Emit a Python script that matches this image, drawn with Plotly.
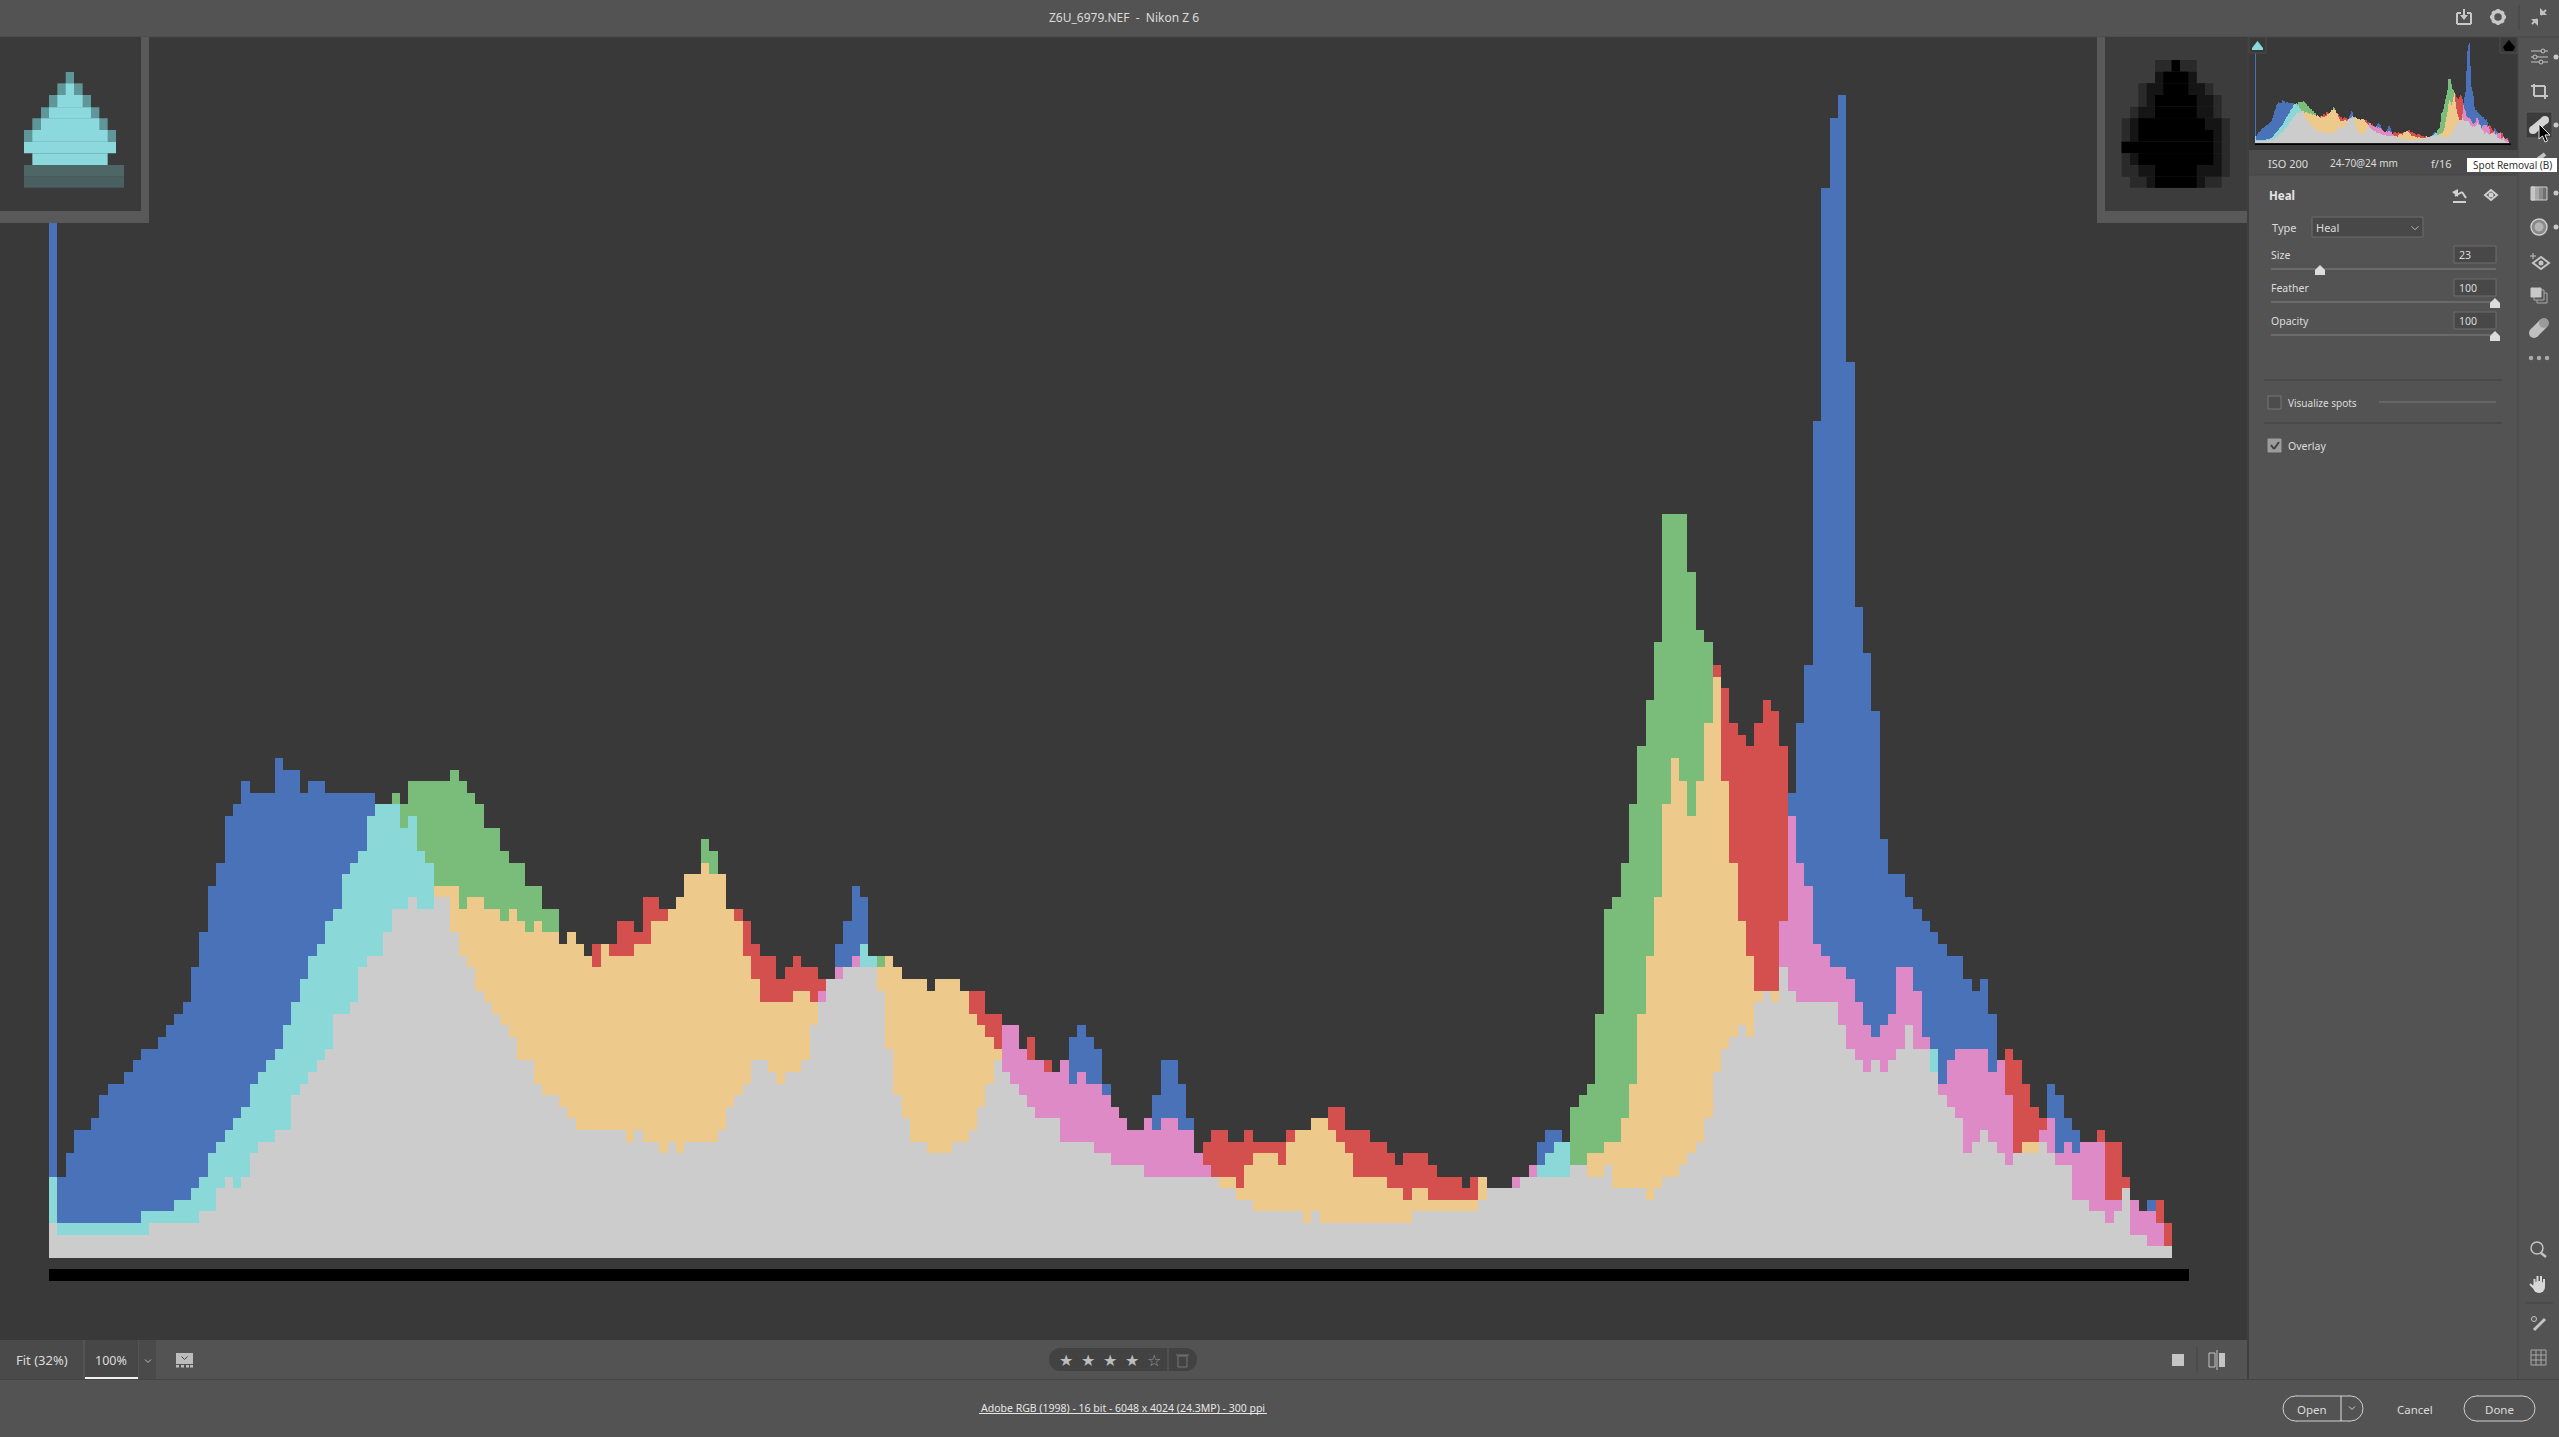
# Camera Raw window with its RGB histogram, big and small
import numpy as np
import plotly.graph_objects as go

W = 2559
H = 1437

# =========================================================
# HISTOGRAM DATA (one value per level column)
# =========================================================
red = [
    3, 2, 2, 2, 2, 2, 2, 2, 2, 2,
    2, 2, 3, 3, 3, 3, 3, 3, 4, 4,
    6, 7, 6, 7, 9, 10, 10, 11, 11, 14,
    15, 16, 17, 18, 21, 21, 22, 25, 26, 26,
    28, 30, 30, 31, 30, 30, 32, 32, 32, 30,
    31, 31, 30, 30, 29, 30, 29, 28, 29, 28,
    28, 27, 28, 27, 26, 27, 27, 27, 29, 29,
    28, 31, 31, 30, 30, 31, 33, 33, 34, 33,
    33, 30, 30, 29, 27, 26, 26, 24, 25, 26,
    25, 25, 24, 24, 25, 25, 26, 25, 25, 25,
    26, 25, 24, 24, 24, 23, 24, 24, 24, 23,
    23, 23, 21, 21, 20, 20, 18, 19, 17, 17,
    16, 17, 15, 16, 15, 15, 14, 13, 12, 11,
    11, 12, 11, 12, 12, 11, 11, 9, 10, 11,
    11, 10, 10, 11, 10, 10, 10, 10, 11, 11,
    11, 12, 12, 13, 13, 11, 11, 11, 10, 10,
    9, 8, 9, 9, 9, 8, 7, 7, 7, 6,
    7, 7, 6, 6, 6, 7, 7, 8, 7, 7,
    7, 7, 8, 8, 9, 9, 10, 10, 12, 15,
    21, 26, 31, 39, 43, 41, 38, 41, 46, 51,
    49, 46, 45, 44, 46, 48, 47, 44, 38, 34,
    32, 27, 26, 25, 25, 24, 22, 20, 19, 20,
    21, 25, 25, 23, 19, 16, 15, 17, 18, 18,
    18, 18, 16, 17, 18, 17, 15, 13, 12, 12,
    9, 10, 9, 10, 10, 11, 10, 10, 7, 5,
    4, 4, 5, 3, 0, 0,
]
green = [
    7, 3, 3, 3, 3, 3, 3, 3, 3, 3,
    3, 4, 4, 4, 4, 5, 5, 6, 7, 9,
    10, 11, 12, 13, 15, 16, 17, 18, 20, 22,
    24, 26, 27, 29, 30, 33, 34, 35, 38, 39,
    39, 40, 39, 41, 41, 41, 41, 41, 42, 41,
    40, 39, 37, 37, 35, 34, 34, 32, 32, 30,
    30, 27, 28, 27, 26, 25, 27, 26, 26, 26,
    27, 27, 29, 29, 30, 31, 33, 33, 36, 35,
    33, 30, 29, 26, 24, 22, 22, 22, 22, 23,
    23, 22, 22, 24, 24, 25, 25, 27, 26, 26,
    26, 25, 24, 24, 24, 23, 24, 24, 24, 23,
    21, 20, 19, 18, 16, 15, 14, 13, 12, 12,
    12, 10, 10, 10, 10, 9, 9, 8, 8, 8,
    8, 7, 7, 7, 7, 7, 7, 7, 7, 7,
    7, 7, 6, 8, 9, 9, 9, 8, 10, 11,
    11, 12, 12, 11, 10, 9, 7, 7, 7, 7,
    6, 6, 5, 6, 6, 5, 5, 5, 5, 5,
    5, 7, 6, 6, 6, 6, 7, 7, 8, 9,
    10, 10, 13, 14, 15, 21, 30, 31, 34, 39,
    44, 48, 53, 64, 64, 64, 59, 54, 53, 50,
    41, 34, 29, 26, 23, 23, 23, 25, 23, 22,
    22, 22, 22, 22, 20, 18, 17, 16, 17, 16,
    17, 18, 20, 18, 18, 18, 14, 13, 12, 9,
    10, 11, 10, 9, 8, 9, 10, 10, 10, 9,
    8, 8, 5, 5, 4, 4, 3, 4, 6, 2,
    2, 1, 1, 1, 0, 0,
]
blue = [
    90, 7, 9, 11, 11, 12, 14, 15, 15, 16,
    17, 18, 18, 19, 20, 21, 22, 25, 28, 32,
    34, 38, 39, 41, 40, 40, 40, 43, 42, 42,
    40, 41, 41, 40, 40, 40, 40, 40, 40, 39,
    39, 39, 37, 38, 35, 34, 31, 31, 28, 26,
    25, 23, 22, 21, 20, 19, 17, 17, 15, 14,
    14, 13, 12, 11, 11, 11, 11, 11, 11, 10,
    11, 10, 10, 9, 10, 9, 10, 10, 10, 10,
    11, 13, 14, 15, 17, 17, 16, 15, 16, 16,
    17, 20, 23, 24, 27, 29, 32, 31, 26, 23,
    18, 14, 12, 10, 10, 9, 9, 9, 10, 10,
    11, 13, 15, 17, 20, 20, 18, 17, 17, 16,
    16, 17, 19, 20, 19, 18, 15, 13, 12, 11,
    11, 12, 14, 17, 17, 15, 12, 9, 8, 7,
    6, 6, 5, 5, 4, 4, 4, 4, 4, 4,
    3, 4, 3, 3, 3, 3, 3, 3, 3, 3,
    3, 3, 3, 4, 4, 4, 4, 4, 4, 4,
    4, 5, 6, 6, 6, 7, 7, 8, 10, 11,
    11, 10, 8, 8, 7, 7, 8, 6, 6, 6,
    6, 5, 6, 7, 7, 8, 9, 10, 12, 16,
    18, 19, 20, 19, 22, 23, 22, 29, 40, 46,
    51, 72, 92, 98, 100, 77, 56, 52, 47, 36,
    33, 33, 31, 30, 29, 28, 27, 26, 26, 24,
    23, 24, 21, 17, 14, 9, 9, 9, 11, 15,
    14, 12, 11, 10, 10, 10, 5, 5, 6, 5,
    4, 5, 3, 1, 0, 0,
]
levels = list(range(len(red)))

r = np.array(red)
g = np.array(green)
b = np.array(blue)

# where channels overlap the colour mixes, where all three overlap it is gray
layers = [
    (b, '#4a72b8'),
    (g, '#7abd7a'),
    (r, '#d4504e'),
    (np.minimum(g, b), '#8bd8d9'),
    (np.minimum(r, b), '#de8ac6'),
    (np.minimum(r, g), '#edc98b'),
    (np.minimum(np.minimum(r, g), b), '#cccccc'),
]

CHROME = '#535353'
CANVAS = '#393939'
TEXT = '#dcdcdc'
FONT = 'Noto Sans'

shapes = []
notes = []


# =========================================================
# DRAWING HELPERS (window pixels to paper coordinates)
# =========================================================
def px(x):
    return x / W


def py(y):
    return 1 - y / H


def rect(x0, y0, x1, y1, fill, line=None, layer='above'):
    shapes.append(dict(
        type='rect', xref='paper', yref='paper', layer=layer,
        x0=px(x0), x1=px(x1), y0=py(y0), y1=py(y1),
        fillcolor=fill, line=dict(width=1 if line else 0, color=line or fill)
    ))


def line(x0, y0, x1, y1, color, width=1):
    shapes.append(dict(
        type='line', xref='paper', yref='paper', layer='above',
        x0=px(x0), x1=px(x1), y0=py(y0), y1=py(y1),
        line=dict(color=color, width=width)
    ))


def circle(cx, cy, rad, fill, outline=None, width=1):
    shapes.append(dict(
        type='circle', xref='paper', yref='paper', layer='above',
        x0=px(cx - rad), x1=px(cx + rad), y0=py(cy - rad), y1=py(cy + rad),
        fillcolor=fill, line=dict(width=width if outline else 0, color=outline or fill)
    ))


def poly(points, fill, outline=None, width=1):
    path = 'M ' + ' L '.join(f'{px(x):.5f},{py(y):.5f}' for x, y in points) + ' Z'
    shapes.append(dict(
        type='path', xref='paper', yref='paper', layer='above', path=path,
        fillcolor=fill, line=dict(width=width if outline else 0, color=outline or fill)
    ))


def pill(x0, y0, x1, y1, fill, outline=None):
    rad = (y1 - y0) / 2
    circle(x0 + rad, y0 + rad, rad, fill, outline)
    circle(x1 - rad, y0 + rad, rad, fill, outline)
    rect(x0 + rad, y0, x1 - rad, y1, fill)
    if outline:
        line(x0 + rad, y0, x1 - rad, y0, outline)
        line(x0 + rad, y1, x1 - rad, y1, outline)


def text(x, y, s, size=11.5, color=TEXT, anchor='left', font=FONT):
    notes.append(dict(
        xref='paper', yref='paper', x=px(x), y=py(y), text=s, showarrow=False,
        xanchor=anchor, yanchor='middle', borderpad=0,
        font=dict(family=font, size=size, color=color)
    ))


def chevron(cx, cy, color, size=4):
    line(cx - size, cy - size / 2, cx, cy + size / 2, color)
    line(cx, cy + size / 2, cx + size, cy - size / 2, color)


# =========================================================
# WINDOW BACKGROUND
# =========================================================
rect(0, 37, 2247, 1340, CANVAS, layer='below')
rect(2249, 37, 2518, 150, CANVAS, layer='below')
rect(2249, 150, 2518, 175, '#4c4c4c', layer='below')

line(0, 37, 2559, 37, '#484848')
line(2248, 37, 2248, 1379, '#3f3f3f', 2)
line(2518, 37, 2518, 1379, '#484848')
line(0, 1379.5, 2559, 1379.5, '#454545')
line(2249, 175, 2518, 175, '#474747')
line(2519, 5, 2519, 30, '#454545')

# black strips under both histograms
rect(49, 1269, 2189, 1281, '#000000')
rect(2255, 143.5, 2511, 145, '#000000')

# =========================================================
# TITLE BAR
# =========================================================
text(1124, 17, 'Z6U_6979.NEF\u00a0\u00a0-\u00a0\u00a0Nikon Z 6', 12, anchor='center')

# save icon
line(2457, 13, 2457, 24, '#c8c8c8', 2)
line(2457, 24, 2471, 24, '#c8c8c8', 2)
line(2471, 13, 2471, 24, '#c8c8c8', 2)
line(2457, 13, 2461, 13, '#c8c8c8', 2)
line(2467, 13, 2471, 13, '#c8c8c8', 2)
line(2464, 9, 2464, 19, '#c8c8c8', 2)
poly([(2460, 15), (2468, 15), (2464, 20)], '#c8c8c8')
# gear
circle(2498, 17, 5.5, 'rgba(0,0,0,0)', '#c8c8c8', 3.5)
for dx, dy in [(0, -8), (0, 8), (-8, 0), (8, 0), (-5.5, -5.5), (5.5, 5.5), (-5.5, 5.5), (5.5, -5.5)]:
    line(2498 + dx * 0.7, 17 + dy * 0.7, 2498 + dx, 17 + dy, '#c8c8c8', 3)
# collapse arrows
line(2532, 24, 2537, 19, '#c0c0c0', 2)
line(2546, 10, 2541, 15, '#c0c0c0', 2)
poly([(2531, 19), (2538, 19), (2538, 26)], '#c0c0c0')
poly([(2540, 8), (2540, 15), (2547, 15)], '#c0c0c0')

# =========================================================
# CLIPPING BOXES OVER THE BIG HISTOGRAM
# =========================================================
rect(0, 37, 149, 223, '#595959')
rect(0, 37, 141, 211, '#3a3a3a')

# highlight warning triangle, rows of big pixels as in the reference
PALE = '#5f9699'
CORE = '#8bd8dd'
warn_rows = [
    (156, 190, 197, 222, PALE), (190, 225, 172, 248, PALE), (225, 262, 147, 273, PALE),
    (262, 295, 123, 298, PALE), (295, 330, 97, 323, PALE), (330, 365, 72, 348, PALE),
    (190, 225, 197, 222, CORE), (225, 262, 172, 248, CORE), (262, 295, 147, 273, CORE),
    (295, 330, 123, 298, CORE), (330, 365, 97, 323, CORE), (365, 400, 72, 348, CORE),
    (400, 435, 97, 323, CORE), (435, 470, 72, 372, '#4f6667'), (470, 503, 72, 372, '#4a5f60'),
]
for y0, y1, x0, x1, color in warn_rows:
    rect(x0 / 3, 20 + y0 / 3, x1 / 3, 20 + y1 / 3, color)

rect(2097, 37, 2247, 223, '#595959')
rect(2105, 37, 2247, 211, '#3c3c3c')

# shadow warning drop, soft black blob made of the same kind of rows
drop_rows = [
    (120, 155, 225, 350, 275, 300, 275, 300),
    (155, 190, 225, 350, 225, 350, 250, 325),
    (190, 225, 175, 400, 200, 375, 250, 325),
    (225, 260, 175, 425, 200, 400, 225, 350),
    (260, 295, 150, 425, 175, 400, 225, 350),
    (295, 330, 125, 450, 150, 425, 175, 375),
    (330, 365, 125, 450, 150, 425, 175, 400),
    (365, 400, 125, 450, 125, 425, 125, 400),
    (400, 435, 125, 450, 150, 425, 175, 400),
    (435, 470, 125, 450, 175, 425, 225, 350),
    (470, 503, 150, 425, 200, 375, 225, 350),
]
for y0, y1, s0, s1, m0, m1, c0, c1 in drop_rows:
    top = 20 + y0 / 3
    bot = 20 + y1 / 3
    rect(2080 + s0 / 3, top, 2080 + s1 / 3, bot, '#2a2a2a')
    rect(2080 + m0 / 3, top, 2080 + m1 / 3, bot, '#151515')
    rect(2080 + c0 / 3, top, 2080 + c1 / 3, bot, '#000000')

# =========================================================
# SMALL HISTOGRAM CORNERS AND INFO STRIP
# =========================================================
rect(2249, 37, 2266, 53, CANVAS, '#4d4d4d')
poly([(2257.5, 41), (2252, 48), (2263, 48)], '#8bd8dd')
rect(2252, 48, 2263, 50, '#8bd8dd')
rect(2500, 37, 2517, 53, CANVAS, '#4d4d4d')
poly([(2509, 40), (2503, 47), (2505, 51), (2513, 51), (2515, 47)], '#000000')

text(2267, 163, 'ISO 200', 11)
text(2329, 163, '24-70@24\u00a0mm', 10)
text(2430, 163, 'f/16', 11)

# =========================================================
# HEAL PANEL
# =========================================================
text(2268, 196, '<b>Heal</b>', 11.5, '#e6e6e6')

# reset and eye icons
line(2453, 202, 2466, 202, '#d0d0d0', 2)
line(2455, 196, 2462, 192, '#d0d0d0', 2)
line(2462, 192, 2466, 198, '#d0d0d0', 2)
poly([(2452, 192), (2458, 189), (2458, 197)], '#d0d0d0')
poly([(2485, 195), (2491, 190), (2497, 195), (2491, 200)], 'rgba(0,0,0,0)', '#d0d0d0', 2)
circle(2491, 195, 2.5, '#d0d0d0')

text(2271, 227, 'Type', 11)
rect(2312, 217, 2423, 237, '#484848', '#6c6c6c')
text(2315, 227, 'Heal', 11)
chevron(2415, 228, '#b8b8b8', 3.5)

slider_rows = [('Size', '23', 255, 2320), ('Feather', '100', 288, 2495), ('Opacity', '100', 321, 2495)]
for name, value, row_y, thumb_x in slider_rows:
    text(2270, row_y, name, 10.5)
    rect(2454, row_y - 9, 2496, row_y + 8, '#484848', '#6c6c6c')
    text(2458, row_y, value, 10.5)
    rect(2271, row_y + 13, 2496, row_y + 15, '#6a6a6a')
    poly([(thumb_x, row_y + 10), (thumb_x + 5, row_y + 15), (thumb_x + 5, row_y + 20),
          (thumb_x - 5, row_y + 20), (thumb_x - 5, row_y + 15)], '#dcdcdc')

line(2264, 380, 2502, 380, '#404040')
line(2264, 423, 2502, 423, '#404040')

rect(2268, 396, 2281, 409, '#4c4c4c', '#777777')
text(2287, 403, 'Visualize spots', 10)
rect(2379, 401, 2496, 403, '#666666')

rect(2268, 439, 2281, 452, '#9c9c9c', '#9c9c9c')
line(2271, 445, 2274, 449, '#404040', 2)
line(2274, 449, 2279, 442, '#404040', 2)
text(2287, 446, 'Overlay', 10.5)

# =========================================================
# RIGHT TOOL COLUMN
# =========================================================
ICON = '#c4c4c4'
for yy, cx in [(51, 2543), (57, 2535), (62, 2541)]:
    line(2531, yy, 2548, yy, ICON)
    circle(cx, yy, 2, CHROME, ICON)

line(2534, 84, 2534, 96, ICON, 2)
line(2534, 96, 2548, 96, ICON, 2)
line(2531, 86, 2545, 86, ICON, 2)
line(2545, 86, 2545, 99, ICON, 2)

rect(2526, 112, 2552, 138, '#3c3c3c', '#5c5c5c')
line(2533, 130, 2545, 120, '#d4d4d4', 8)
circle(2533, 130, 4, '#d4d4d4')
circle(2545, 120, 4, '#d4d4d4')
# pointer
poly([(2539, 124), (2539, 139), (2542.5, 136), (2545, 142), (2547.5, 141),
      (2545, 135), (2550, 135)], '#000000', '#e8e8e8')

line(2537, 160, 2545, 154, ICON, 4)

rect(2531, 187, 2535, 200, '#c4c4c4', '#cccccc')
rect(2535, 187, 2539, 200, '#a8a8a8')
rect(2539, 187, 2543, 200, '#8c8c8c')
rect(2543, 187, 2547, 200, '#707070')
line(2531, 187, 2547, 187, '#cccccc')
line(2531, 200, 2547, 200, '#cccccc')
line(2547, 187, 2547, 200, '#cccccc')
circle(2539, 227, 8, '#8a8a8a', '#cccccc', 1.5)
circle(2539, 227, 4.5, '#b4b4b4')

line(2530, 256, 2536, 256, ICON)
line(2533, 253, 2533, 259, ICON)
poly([(2533, 263), (2541, 257), (2549, 263), (2541, 269)], 'rgba(0,0,0,0)', ICON, 2)
circle(2541, 263, 2.5, ICON)

rect(2537, 293, 2547, 303, '#555555', '#aaaaaa')
rect(2534, 290, 2544, 300, '#555555', '#aaaaaa')
rect(2531, 288, 2541, 297, '#c8c8c8', '#c8c8c8')

line(2534, 333, 2544, 323, '#c0c0c0', 10)
circle(2534, 333, 5, '#c0c0c0')
circle(2544, 323, 5, '#9a9a9a')

for cx in [2531, 2539, 2547]:
    circle(cx, 358, 2.2, '#aaaaaa')
for cy in [57, 125, 193, 227]:
    circle(2556, cy, 2.5, '#c8c8c8')

# tooltip sits over the column
rect(2467, 158, 2557, 172, '#ffffff')
text(2472, 165, 'Spot Removal (B)', 10, '#333333')

# lower tools
circle(2537, 1248, 6, 'rgba(0,0,0,0)', ICON, 1.5)
line(2541, 1253, 2546, 1257, ICON, 2.5)

circle(2539, 1287, 6, '#d8d8d8')
for fx, fy in [(2534.5, 1279), (2537.5, 1276), (2541, 1276), (2544, 1279)]:
    line(fx, fy, fx, 1286, '#d8d8d8', 2)
line(2534, 1288, 2530, 1284, '#d8d8d8', 2)

line(2525, 1303, 2553, 1303, '#474747')
line(2534, 1330, 2545, 1319, ICON, 3)
circle(2534, 1319, 2.5, 'rgba(0,0,0,0)', ICON)
rect(2531, 1350, 2546, 1365, 'rgba(0,0,0,0)', '#a8a8a8')
for d in [5, 10]:
    line(2531 + d, 1350, 2531 + d, 1365, '#a8a8a8')
    line(2531, 1350 + d, 2546, 1350 + d, '#a8a8a8')

# =========================================================
# BOTTOM TOOLBAR
# =========================================================
rect(0, 1340, 83, 1379, '#4a4a4a')
rect(85, 1340, 138, 1379, '#474747')
rect(139, 1340, 156, 1379, '#4a4a4a')
rect(85, 1377, 138, 1379, '#f0f0f0')
text(15, 1360, 'Fit (32%)', 13)
text(111.5, 1360, '100%', 12.5, anchor='center')
chevron(148, 1361, '#b8b8b8', 3)

rect(176, 1353, 193, 1364, '#bcbcbc')
chevron(184.5, 1358, '#444444', 3)
for cx in [176, 181, 186, 190]:
    rect(cx, 1365, cx + 3, 1367.5, '#bcbcbc')

pill(1049, 1348, 1197, 1371, '#424242')
for cx in [1066, 1088, 1110, 1132]:
    text(cx, 1360, '\u2605', 16, '#bdbdbd', 'center', 'DejaVu Sans')
text(1154, 1360, '\u2606', 16, '#999999', 'center', 'DejaVu Sans')
line(1168, 1348, 1168, 1371, '#5c5c5c')
rect(1178, 1356, 1187, 1367, 'rgba(0,0,0,0)', '#777777')
line(1176, 1355, 1189, 1355, '#777777')

rect(2172, 1354, 2184, 1366, '#c4c4c4')
line(2197, 1346, 2197, 1373, '#474747')
rect(2209, 1353, 2215, 1367, 'rgba(0,0,0,0)', '#c4c4c4')
rect(2219, 1353, 2225, 1367, '#c4c4c4')
line(2217, 1350, 2217, 1370, '#c4c4c4')

# =========================================================
# FOOTER
# =========================================================
text(1123, 1408, 'Adobe RGB (1998) - 16 bit - 6048 x 4024 (24.3MP) - 300 ppi', 10.5, '#e6e6e6', 'center')
line(979, 1413.5, 1267, 1413.5, '#e6e6e6')

pill(2283, 1396, 2363, 1421, CHROME, '#d0d0d0')
line(2341, 1396, 2341, 1421, '#e0e0e0')
text(2312, 1409, 'Open', 11.5, anchor='center')
chevron(2352, 1408, '#d0d0d0', 3)
text(2415, 1409, 'Cancel', 11.5, anchor='center')
pill(2464, 1396, 2535, 1421, CHROME, '#d0d0d0')
text(2499, 1409, 'Done', 11.5, anchor='center')

# =========================================================
# FIGURE
# =========================================================
fig = go.Figure()

for axis_x, axis_y in [('x', 'y'), ('x2', 'y2')]:
    for values, color in layers:
        fig.add_trace(go.Bar(
            x=levels, y=values, width=1, xaxis=axis_x, yaxis=axis_y,
            marker=dict(color=color, line=dict(width=0)),
            showlegend=False, hoverinfo='skip'
        ))

axis_off = dict(visible=False, fixedrange=True, showgrid=False, zeroline=False)

fig.update_layout(
    width=W,
    height=H,
    autosize=False,
    margin=dict(l=0, r=0, t=0, b=0, pad=0),
    paper_bgcolor=CHROME,
    plot_bgcolor='rgba(0,0,0,0)',
    barmode='overlay',
    bargap=0,
    showlegend=False,
    hovermode=False,
    xaxis=dict(axis_off, domain=[49 / W, 2189 / W], range=[-0.5, 255.5]),
    yaxis=dict(axis_off, domain=[py(1258), py(95)], range=[0, 100]),
    xaxis2=dict(axis_off, domain=[2255 / W, 2511 / W], range=[-0.5, 255.5], anchor='y2'),
    yaxis2=dict(axis_off, domain=[py(143), py(43)], range=[0, 100], anchor='x2'),
    shapes=shapes,
    annotations=notes,
)

fig.write_html(
    "out.html",
    config={'displayModeBar': False},
    post_script="document.body.style.margin='0';"
)
